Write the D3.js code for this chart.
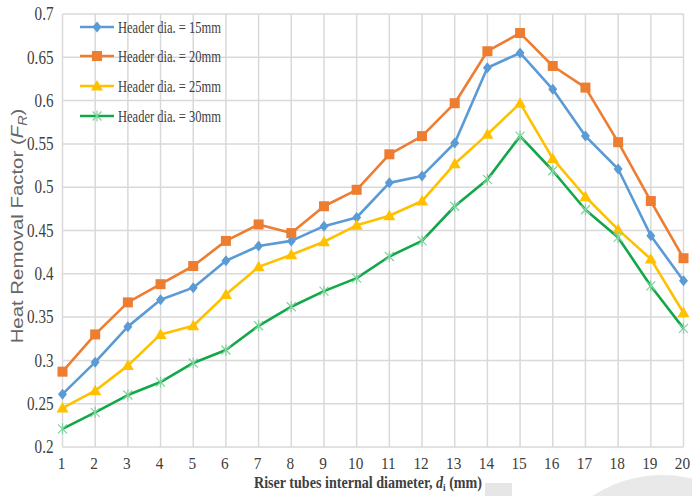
<!DOCTYPE html>
<html>
<head>
<meta charset="utf-8">
<script src="https://cdn.jsdelivr.net/npm/d3@7/dist/d3.min.js"></script>
<style>
  html, body { margin: 0; padding: 0; background: #fff; }
  svg { display: block; }
</style>
</head>
<body>
<svg id="chart" width="692" height="496"></svg>
<script>
// Riser tube internal diameter (mm)
const diameters = [1, 2, 3, 4, 5, 6, 7, 8, 9, 10, 11, 12, 13, 14, 15, 16, 17, 18, 19, 20];

// Heat removal factor F_R for each header diameter
const header15 = [0.261, 0.298, 0.339, 0.370, 0.384, 0.415, 0.432, 0.438, 0.455, 0.465,
                  0.505, 0.513, 0.551, 0.638, 0.655, 0.613, 0.559, 0.521, 0.444, 0.392];
const header20 = [0.287, 0.330, 0.367, 0.388, 0.409, 0.438, 0.457, 0.447, 0.478, 0.497,
                  0.538, 0.559, 0.597, 0.657, 0.678, 0.640, 0.615, 0.552, 0.484, 0.418];
const header25 = [0.245, 0.265, 0.294, 0.330, 0.340, 0.376, 0.408, 0.422, 0.437, 0.456,
                  0.467, 0.484, 0.527, 0.561, 0.597, 0.533, 0.489, 0.451, 0.417, 0.355];
const header30 = [0.221, 0.240, 0.260, 0.275, 0.297, 0.312, 0.340, 0.362, 0.380, 0.395,
                  0.420, 0.438, 0.478, 0.509, 0.559, 0.519, 0.474, 0.442, 0.386, 0.337];

const seriesNames = ["Header dia. = 15mm", "Header dia. = 20mm", "Header dia. = 25mm", "Header dia. = 30mm"];
const yTickLabels = ["0.2", "0.25", "0.3", "0.35", "0.4", "0.45", "0.5", "0.55", "0.6", "0.65", "0.7"];

const series = [
  { name: seriesNames[0], values: header15, color: "#5b9bd5", marker: "diamond" },
  { name: seriesNames[1], values: header20, color: "#ed7d31", marker: "square" },
  { name: seriesNames[2], values: header25, color: "#ffc000", marker: "triangle" },
  { name: seriesNames[3], values: header30, color: "#12a84a", marker: "star" }
];

const svg = d3.select("#chart");
const serif = "'Liberation Serif', 'Times New Roman', serif";
const sans = "'Liberation Sans', Arial, sans-serif";

const x = d3.scaleLinear().domain([1, 20]).range([62.5, 683.5]);
const y = d3.scaleLinear().domain([0.2, 0.7]).range([447, 14]);

// faint background shapes along the bottom edge
svg.append("circle").attr("cx", 662).attr("cy", 602).attr("r", 127).attr("fill", "#e9e9e9");
svg.append("rect").attr("x", 485).attr("y", 483).attr("width", 27).attr("height", 13).attr("fill", "#e6e6e6");

// gridlines
const grid = svg.append("g").attr("stroke", "#d9d9d9").attr("stroke-width", 1.5);
grid.selectAll("line.h").data(yTickLabels.map(Number)).join("line")
  .attr("class", "h")
  .attr("x1", x(1)).attr("x2", x(20))
  .attr("y1", d => y(d)).attr("y2", d => y(d));
grid.selectAll("line.v").data(diameters).join("line")
  .attr("class", "v")
  .attr("x1", d => x(d)).attr("x2", d => x(d))
  .attr("y1", y(0.2)).attr("y2", y(0.7));

// y axis labels
const yAxis = d3.axisLeft(y)
  .tickValues(yTickLabels.map(Number))
  .tickFormat((d, i) => yTickLabels[i])
  .tickSize(0).tickPadding(9);
const gy = svg.append("g").attr("transform", `translate(${x(1)},0)`).call(yAxis);
gy.select(".domain").remove();
gy.selectAll("text")
  .attr("font-family", serif).attr("font-size", 18).attr("fill", "#404040")
  .each(function () {
    const w = this.getComputedTextLength();
    d3.select(this).attr("textLength", w * 0.84).attr("lengthAdjust", "spacingAndGlyphs");
  });

// x axis labels
const xAxis = d3.axisBottom(x).tickValues(diameters).tickFormat(d3.format("d")).tickSize(0).tickPadding(10);
const gx = svg.append("g").attr("transform", `translate(0,${y(0.2)})`).call(xAxis);
gx.select(".domain").remove();
gx.selectAll("text")
  .attr("font-family", serif).attr("font-size", 17).attr("fill", "#404040").attr("dx", -1.5)
  .each(function () {
    const w = this.getComputedTextLength();
    d3.select(this).attr("textLength", w * 0.9).attr("lengthAdjust", "spacingAndGlyphs");
  });

// axis titles (horizontally condensed by a scale transform)
const xt = svg.append("text")
  .attr("transform", "translate(368,488) scale(0.83,1)")
  .attr("text-anchor", "middle")
  .attr("font-family", serif).attr("font-size", 17).attr("font-weight", "bold").attr("fill", "#404040");
xt.append("tspan").text("Riser tubes internal diameter, ");
xt.append("tspan").attr("font-style", "italic").text("d");
xt.append("tspan").attr("font-size", 11).attr("dy", 3).text("i");
xt.append("tspan").attr("dy", -3).text(" (mm)");

const yt = svg.append("text")
  .attr("transform", "translate(23,226) rotate(-90) scale(1.2,1)")
  .attr("text-anchor", "middle")
  .attr("font-family", sans).attr("font-size", 17).attr("fill", "#666666");
yt.append("tspan").text("Heat Removal Factor (");
yt.append("tspan").attr("font-style", "italic").text("F");
yt.append("tspan").attr("font-style", "italic").attr("font-size", 12).attr("dy", 4).text("R");
yt.append("tspan").attr("dy", -4).text(")");

// marker drawing
function drawMarker(g, type, color) {
  if (type === "diamond") {
    g.append("path").attr("d", "M0,-5.5L4.5,0L0,5.5L-4.5,0Z").attr("fill", color);
  } else if (type === "square") {
    g.append("rect").attr("x", -5).attr("y", -5).attr("width", 10).attr("height", 10).attr("fill", color);
  } else if (type === "triangle") {
    g.append("path").attr("d", "M0,-6L6,4.5L-6,4.5Z").attr("fill", color);
  } else {
    const s = 4.5;
    g.append("path")
      .attr("d", `M${-s},${-s}L${s},${s}M${-s},${s}L${s},${-s}M0,${-s - 1}L0,${s + 1}`)
      .attr("stroke", "#7fd39c").attr("stroke-width", 1.2).attr("fill", "none");
  }
}

const line = d3.line().x((d, i) => x(diameters[i])).y(d => y(d));

const plot = svg.append("g");
series.forEach(s => {
  plot.append("path").attr("d", line(s.values))
    .attr("fill", "none").attr("stroke", s.color).attr("stroke-width", 2.6)
    .attr("stroke-linejoin", "round");
  plot.selectAll(null).data(s.values).join("g")
    .attr("transform", (d, i) => `translate(${x(diameters[i])},${y(d)})`)
    .each(function () { drawMarker(d3.select(this), s.marker, s.color); });
});

// legend
const legendY = [27, 56, 86, 116];
const legend = svg.append("g");
series.forEach((s, i) => {
  const g = legend.append("g").attr("transform", `translate(0,${legendY[i]})`);
  g.append("line").attr("x1", 80).attr("x2", 114).attr("y1", 0).attr("y2", 0)
    .attr("stroke", s.color).attr("stroke-width", 2.6);
  const m = g.append("g").attr("transform", "translate(97,0)");
  drawMarker(m, s.marker, s.color);
  g.append("text").attr("x", 118).attr("y", 5.5)
    .attr("font-family", serif).attr("font-size", 16).attr("fill", "#404040")
    .attr("textLength", 103).attr("lengthAdjust", "spacingAndGlyphs")
    .text(s.name);
});
</script>
</body>
</html>
